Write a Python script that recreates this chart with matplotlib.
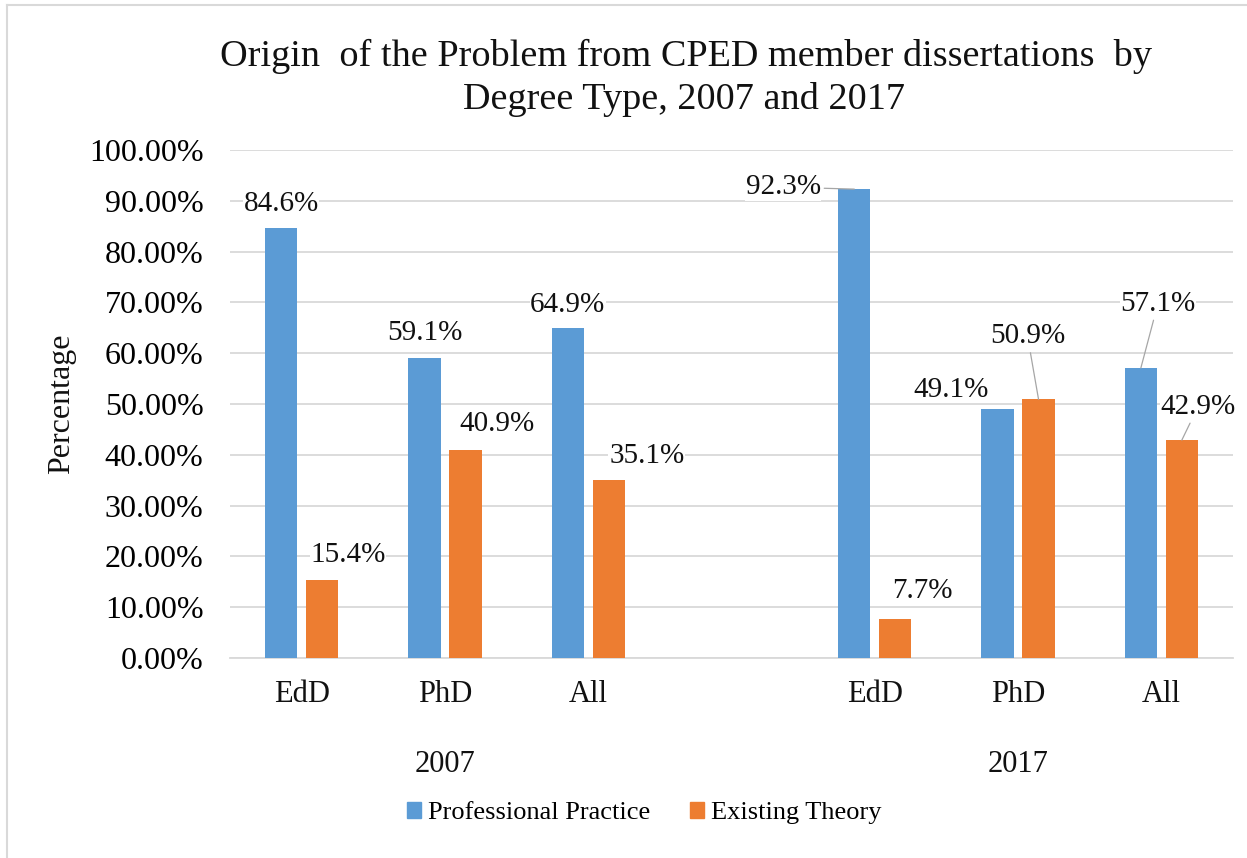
import matplotlib
matplotlib.use('Agg')
import matplotlib.pyplot as plt
import matplotlib.transforms as mtransforms
from matplotlib.lines import Line2D
from matplotlib.patches import Patch
from matplotlib.ticker import PercentFormatter

plt.rcParams['font.family'] = ['Liberation Serif', 'DejaVu Serif']

years = ['2007', '2017']
degrees = ['EdD', 'PhD', 'All']
practice = [84.6, 59.1, 64.9, 92.3, 49.1, 57.1]
theory = [15.4, 40.9, 35.1, 7.7, 50.9, 42.9]

# category slots; slot 3 is the empty one between the two years
slots = [0, 1, 2, 4, 5, 6]

# label offsets in pixels (x right, y up) from bar top to label centre,
# and whether the label has a leader line
practice_off = [(0, 27), (0, 28), (0, 26), (-71, 5), (-47, 22), (17, 67)]
theory_off = [(26, 28), (32, 29), (38, 27), (27, 31), (-11, 66), (16, 36)]
practice_lead = [False, False, False, True, False, True]
theory_lead = [False, False, False, False, True, True]

blue = '#5B9BD5'
orange = '#ED7D31'
grid = '#D9D9D9'

W, H = 1247, 858
fig = plt.figure(figsize=(W / 100, H / 100), dpi=100)
ax = fig.add_axes([230 / W, 1 - 658 / H, 1003 / W, 508 / H])

bw = 0.225
off = 0.143
xb = [s - off for s in slots]
xo = [s + off for s in slots]
ax.bar(xb, practice, width=bw, color=blue, zorder=3)
ax.bar(xo, theory, width=bw, color=orange, zorder=3)

ax.set_xlim(-0.5, 6.5)
ax.set_ylim(0, 100)
ax.set_yticks(range(0, 101, 10))
ax.yaxis.set_major_formatter(PercentFormatter(xmax=100, decimals=2))
ax.yaxis.grid(True, color=grid, lw=1.3, zorder=0)
ax.set_axisbelow(True)
for sp in ['top', 'right', 'left']:
    ax.spines[sp].set_visible(False)
ax.spines['bottom'].set_color(grid)
ax.spines['bottom'].set_linewidth(1.3)
ax.tick_params(axis='y', length=0, labelsize=23, pad=19)
ax.set_xticks([])


def label(x, v, dx, dy, lead):
    kw = {}
    if lead:
        kw['arrowprops'] = dict(arrowstyle='-', color='#A6A6A6', lw=0.9,
                                shrinkA=2, shrinkB=0)
    ax.annotate(f'{v}%', xy=(x, v), xytext=(dx, dy - 10),
                textcoords='offset pixels', ha='center', va='baseline',
                fontsize=21, color='#111111', zorder=5,
                bbox=dict(fc='white', ec='none', pad=0.5), **kw)


for x, v, (dx, dy), ld in zip(xb, practice, practice_off, practice_lead):
    label(x, v, dx, dy, ld)
for x, v, (dx, dy), ld in zip(xo, theory, theory_off, theory_lead):
    label(x, v, dx, dy, ld)

# two-level category axis
tr = mtransforms.blended_transform_factory(ax.transData, ax.transAxes)
for i, s in enumerate(slots):
    ax.text(s, -(695 - 658) / 508, degrees[i % 3], transform=tr,
            ha='center', va='center', fontsize=22, color='#111111')
for j, y in enumerate(years):
    ax.text(slots[j * 3 + 1], -(765 - 658) / 508, y, transform=tr,
            ha='center', va='center', fontsize=22, color='#111111')

fig.text(62 / W, 1 - 404 / H, 'Percentage', rotation=90, ha='center',
         va='center', fontsize=23, color='#111111')

fig.text(686 / W, 1 - 66 / H,
         'Origin  of the Problem from CPED member dissertations  by',
         ha='center', va='baseline', fontsize=27.5, color='#111111')
fig.text(684 / W, 1 - 109 / H, 'Degree Type, 2007 and 2017',
         ha='center', va='baseline', fontsize=27.5, color='#111111')

handles = [Patch(color=blue, label='Professional Practice'),
           Patch(color=orange, label='Existing Theory')]
fig.legend(handles=handles, loc='center', bbox_to_anchor=(644 / W, 1 - 813 / H),
           ncol=2, frameon=False, fontsize=19, handlelength=0.55,
           handleheight=0.55, handletextpad=0.25, columnspacing=1.5)

# chart area border (left and top visible in the crop)
fig.add_artist(Line2D([7 / W, 7 / W], [0, 1 - 5 / H], transform=fig.transFigure,
                      color=grid, lw=1.5))
fig.add_artist(Line2D([7 / W, 1], [1 - 5 / H, 1 - 5 / H], transform=fig.transFigure,
                      color=grid, lw=1.5))

fig.savefig('out.png', dpi=100)
